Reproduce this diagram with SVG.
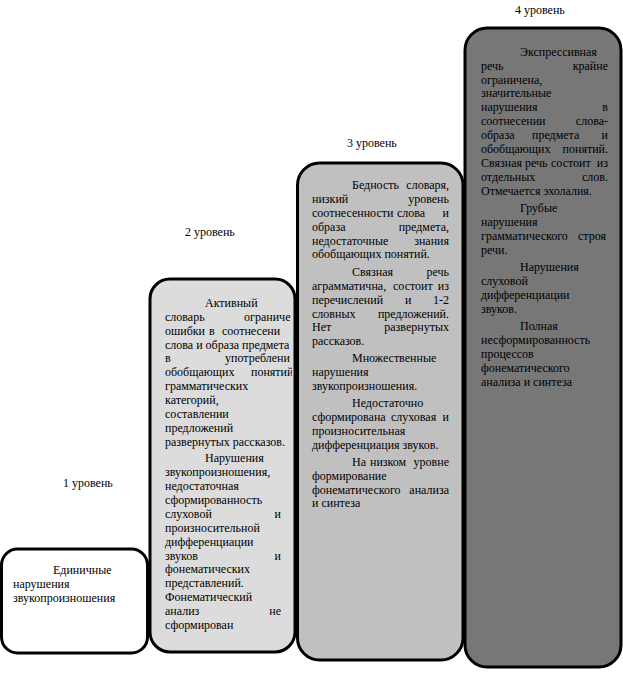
<svg xmlns="http://www.w3.org/2000/svg" width="623" height="682" viewBox="0 0 623 682">
<style>
text{font-family:"Liberation Serif","Times New Roman",serif;font-size:12px;fill:#000}
.e{text-anchor:end}
.box{stroke:#000;stroke-width:3}
</style>
<defs>
<clipPath id="c2"><rect x="150" y="280" width="142" height="372"/></clipPath>
</defs>
<rect width="623" height="682" fill="#fff"/>
<g id="connectors"/>
<g id="level1">
<rect class="box" x="1.5" y="549" width="146" height="104" rx="16" fill="#fff"/>
<text x="63" y="487">1 уровень</text>
<text x="53" y="574">Единичные</text>
<text x="13" y="588">нарушения</text>
<text x="13" y="602">звукопроизношения</text>
</g>
<g id="level2">
<rect class="box" x="150" y="279" width="145" height="373" rx="20" fill="#dcdcdc"/>
<text x="185" y="236">2 уровень</text>
<g clip-path="url(#c2)">
<text x="205" y="307">Активный</text>
<text x="165" y="321">словарь</text><text x="244" y="321">ограниче</text>
<text x="165" y="335">ошибки</text><text x="209" y="335">в</text><text x="222" y="335">соотнесени</text>
<text x="165" y="349">слова и образа предмета</text>
<text x="165" y="362">в</text><text x="225" y="362">употреблени</text>
<text x="165" y="376">обобщающих</text><text x="251" y="376">понятий</text>
<text x="165" y="390">грамматических</text>
<text x="165" y="404">категорий,</text>
<text x="165" y="418">составлении</text>
<text x="165" y="432">предложений</text>
<text x="165" y="446">развернутых рассказов.</text>
</g>
<text x="205" y="462">Нарушения</text>
<text x="165" y="476">звукопроизношения,</text>
<text x="165" y="490">недостаточная</text>
<text x="165" y="504">сформированность</text>
<text x="165" y="518">слуховой</text><text class="e" x="281" y="518">и</text>
<text x="165" y="532">произносительной</text>
<text x="165" y="546">дифференциации</text>
<text x="165" y="560">звуков</text><text class="e" x="281" y="560">и</text>
<text x="165" y="573">фонематических</text>
<text x="165" y="587">представлений.</text>
<text x="165" y="601">Фонематический</text>
<text x="165" y="615">анализ</text><text class="e" x="281" y="615">не</text>
<text x="165" y="629">сформирован</text>
</g>
<g id="level3">
<rect class="box" x="297.5" y="163" width="165.5" height="497" rx="22" fill="#c0c0c0"/>
<text x="347" y="147">3 уровень</text>
<text x="352" y="189">Бедность</text><text class="e" x="449" y="189">словаря,</text>
<text x="312" y="203">низкий</text><text class="e" x="449" y="203">уровень</text>
<text x="312" y="217">соотнесенности</text><text x="397" y="217">слова</text><text class="e" x="449" y="217">и</text>
<text x="312" y="231">образа</text><text class="e" x="449" y="231">предмета,</text>
<text x="312" y="245">недостаточные</text><text class="e" x="449" y="245">знания</text>
<text x="312" y="258">обобщающих понятий.</text>
<text x="352" y="276">Связная</text><text class="e" x="449" y="276">речь</text>
<text x="312" y="290">аграмматична,</text><text x="393" y="290">состоит</text><text class="e" x="449" y="290">из</text>
<text x="312" y="304">перечислений</text><text x="405" y="304">и</text><text class="e" x="449" y="304">1-2</text>
<text x="312" y="318">словных</text><text class="e" x="449" y="318">предложений.</text>
<text x="312" y="331">Нет</text><text class="e" x="449" y="331">развернутых</text>
<text x="312" y="345">рассказов.</text>
<text x="352" y="362">Множественные</text>
<text x="312" y="376">нарушения</text>
<text x="312" y="390">звукопроизношения.</text>
<text x="352" y="407">Недостаточно</text>
<text x="312" y="421">сформирована</text><text x="391" y="421">слуховая</text><text class="e" x="449" y="421">и</text>
<text x="312" y="435">произносительная</text>
<text x="312" y="449">дифференциация звуков.</text>
<text x="352" y="466">На</text><text x="370" y="466">низком</text><text class="e" x="449" y="466">уровне</text>
<text x="312" y="480">формирование</text>
<text x="312" y="494">фонематического</text><text class="e" x="449" y="494">анализа</text>
<text x="312" y="507">и синтеза</text>
</g>
<g id="level4">
<rect class="box" x="465" y="28" width="156" height="639" rx="22" fill="#777"/>
<text x="515" y="14">4 уровень</text>
<text x="520" y="56">Экспрессивная</text>
<text x="481" y="70">речь</text><text class="e" x="608" y="70">крайне</text>
<text x="481" y="84">ограничена,</text>
<text x="481" y="97">значительные</text>
<text x="481" y="111">нарушения</text><text class="e" x="608" y="111">в</text>
<text x="481" y="125">соотнесении</text><text class="e" x="608" y="125">слова-</text>
<text x="481" y="139">образа</text><text x="532" y="139">предмета</text><text class="e" x="608" y="139">и</text>
<text x="481" y="153">обобщающих</text><text class="e" x="608" y="153">понятий.</text>
<text x="481" y="167">Связная</text><text x="525" y="167">речь</text><text x="551" y="167">состоит</text><text class="e" x="608" y="167">из</text>
<text x="481" y="181">отдельных</text><text class="e" x="608" y="181">слов.</text>
<text x="481" y="195">Отмечается эхолалия.</text>
<text x="520" y="212">Грубые</text>
<text x="481" y="226">нарушения</text>
<text x="481" y="240">грамматического</text><text class="e" x="606" y="240">строя</text>
<text x="481" y="254">речи.</text>
<text x="520" y="271">Нарушения</text>
<text x="481" y="285">слуховой</text>
<text x="481" y="299">дифференциации</text>
<text x="481" y="313">звуков.</text>
<text x="520" y="330">Полная</text>
<text x="481" y="344">несформированность</text>
<text x="481" y="358">процессов</text>
<text x="481" y="372">фонематического</text>
<text x="481" y="386">анализа и синтеза</text>
</g>
</svg>
